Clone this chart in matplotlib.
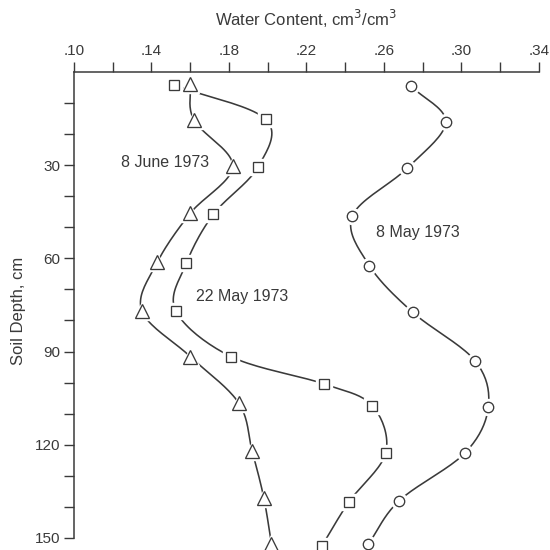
import numpy as np
import matplotlib as mpl
mpl.use('Agg')
import matplotlib.pyplot as plt

plt.rcParams['font.family'] = ['Liberation Sans', 'DejaVu Sans']

# 8 June 1973 (triangles)
june_x = [0.160, 0.162, 0.182, 0.160, 0.143, 0.135, 0.160, 0.185, 0.192, 0.198, 0.202]
june_d = [4.0, 15.5, 30.3, 45.5, 61.3, 76.8, 91.6, 106.5, 122.0, 137.0, 152.0]

# 22 May 1973 (squares)
may22_x = [0.1515, 0.199, 0.195, 0.172, 0.158, 0.1525, 0.181, 0.229, 0.254, 0.261, 0.242, 0.228]
may22_d = [4.2, 15.2, 30.6, 45.8, 61.6, 76.8, 91.6, 100.4, 107.4, 122.6, 138.4, 152.6]

# 8 May 1973 (circles)
may8_x = [0.274, 0.292, 0.272, 0.2437, 0.2525, 0.275, 0.307, 0.314, 0.302, 0.268, 0.252]
may8_d = [4.5, 16.1, 31.0, 46.4, 62.3, 77.4, 92.9, 107.7, 122.6, 138.0, 152.0]

x_ticks = [0.10, 0.12, 0.14, 0.16, 0.18, 0.20, 0.22, 0.24, 0.26, 0.28, 0.30, 0.32, 0.34]
x_labels = ['.10', '', '.14', '', '.18', '', '.22', '', '.26', '', '.30', '', '.34']
y_ticks = [10, 20, 30, 40, 50, 60, 70, 80, 90, 100, 110, 120, 130, 140, 150]
y_labels = ['', '', '30', '', '', '60', '', '', '90', '', '', '120', '', '', '150']

ink = '#3a3a3a'


def smooth(xs, ys, n=20):
    # catmull-rom curve through the points, just for drawing the line
    p = np.column_stack([xs, ys]).astype(float)
    p = np.vstack([2 * p[0] - p[1], p, 2 * p[-1] - p[-2]])
    out = []
    t = np.linspace(0, 1, n, endpoint=False)[:, None]
    for i in range(1, len(p) - 2):
        p0, p1, p2, p3 = p[i - 1], p[i], p[i + 1], p[i + 2]
        seg = 0.5 * ((2 * p1) + (-p0 + p2) * t + (2 * p0 - 5 * p1 + 4 * p2 - p3) * t ** 2
                     + (-p0 + 3 * p1 - 3 * p2 + p3) * t ** 3)
        out.append(seg)
    out.append(p[-2][None, :])
    out = np.vstack(out)
    return out[:, 0], out[:, 1]


fig = plt.figure(figsize=(5.5, 5.5), dpi=100)
ax = fig.add_axes([0.1345, 0.0, 0.845, 0.869])

series = [(june_x, june_d, '^', 9.5), (may22_x, may22_d, 's', 7.5), (may8_x, may8_d, 'o', 7.5)]
for xs, ds, mk, ms in series:
    sx, sy = smooth(xs, ds)
    ax.plot(sx, sy, color=ink, lw=1.15, zorder=1, clip_on=False)
for xs, ds, mk, ms in series:
    ax.plot(xs, ds, ls='none', marker=mk, ms=ms + 4, mfc='white', mec='white', zorder=2, clip_on=False)
for xs, ds, mk, ms in series:
    ax.plot(xs, ds, ls='none', marker=mk, ms=ms, mfc='white', mec=ink, mew=0.95, zorder=3, clip_on=False)

ax.set_xlim(0.10, 0.34)
ax.set_ylim(153.9, 0)

ax.xaxis.tick_top()
ax.xaxis.set_label_position('top')
ax.set_xticks(x_ticks)
ax.set_xticklabels(x_labels)
ax.set_yticks(y_ticks)
ax.set_yticklabels(y_labels)
ax.tick_params(axis='both', direction='out', length=7, width=1.0, color=ink,
               labelcolor=ink, labelsize=11, pad=3)

for s in ['right', 'bottom']:
    ax.spines[s].set_visible(False)
for s in ['top', 'left']:
    ax.spines[s].set_color(ink)
    ax.spines[s].set_linewidth(1.1)
ax.spines['left'].set_bounds(0, 150)

ax.set_xlabel('Water Content, cm$^3$/cm$^3$', fontsize=12, color=ink, labelpad=13)
ax.set_ylabel('Soil Depth, cm', fontsize=12, color=ink, labelpad=6)

ax.text(0.1469, 29, '8 June 1973', fontsize=11.5, color=ink, ha='center', va='center')
ax.text(0.187, 72.3, '22 May 1973', fontsize=11.5, color=ink, ha='center', va='center')
ax.text(0.2777, 51.6, '8 May 1973', fontsize=11.5, color=ink, ha='center', va='center')

plt.savefig('out.png', dpi=100)
plt.close()
